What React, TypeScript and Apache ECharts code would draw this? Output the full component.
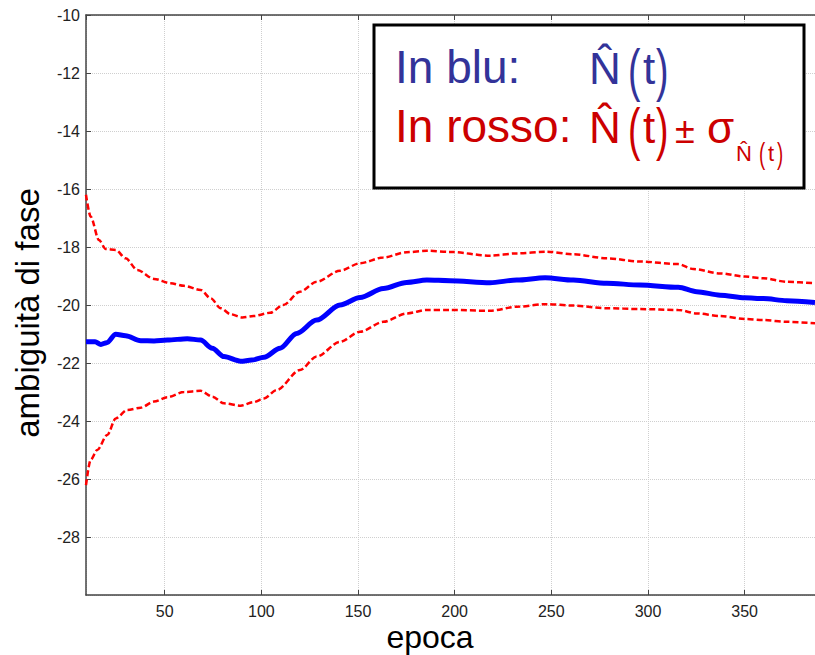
import React, { useEffect, useRef } from "react";
import * as echarts from "echarts";

// epoch (x) and ambiguity (y) values
const epocheBlu = [9.3, 14, 17, 20, 24.7, 29.8, 37.6, 44.5, 51.4, 61.7, 68.6, 74.6, 80.7, 89.3, 95, 101.4, 109.7, 118.3, 128.6, 140.7, 151.1, 163.1, 175.2, 185.6, 197.6, 218.3, 232.1, 246.8, 261.4, 278.7, 295.9, 315.7, 325.2, 337.3, 350.2, 359.7, 371.8, 386.4];
const valoriBlu = [-21.27, -21.27, -21.36, -21.3, -21.01, -21.06, -21.23, -21.24, -21.21, -21.16, -21.21, -21.49, -21.78, -21.94, -21.9, -21.8, -21.49, -20.98, -20.52, -20.0, -19.74, -19.43, -19.22, -19.14, -19.16, -19.23, -19.14, -19.06, -19.14, -19.25, -19.31, -19.39, -19.54, -19.66, -19.75, -19.78, -19.85, -19.91];

const epocheSup = [9.3, 11.7, 16, 19.5, 24.7, 29.8, 35.8, 44.5, 53.1, 60, 68.6, 73.8, 79, 84.2, 90.2, 96, 104.5, 111.4, 120, 128.6, 140.7, 151.1, 163.1, 175.2, 185.6, 197.6, 218.3, 232.1, 247.6, 261.4, 278.7, 295.9, 315.7, 323.5, 337.3, 350.2, 359.7, 371.8, 386.4];
const valoriSup = [-16.2, -16.95, -17.76, -18.07, -18.1, -18.39, -18.79, -19.1, -19.25, -19.34, -19.48, -19.77, -20.11, -20.32, -20.43, -20.38, -20.27, -20.0, -19.54, -19.2, -18.82, -18.56, -18.36, -18.18, -18.13, -18.17, -18.3, -18.22, -18.16, -18.25, -18.39, -18.5, -18.59, -18.76, -18.91, -19.02, -19.08, -19.2, -19.25];

const epocheInf = [9.3, 11.7, 15.1, 20.3, 24.7, 30.7, 37.6, 44.5, 51.4, 60, 68.6, 74.6, 80.7, 89.3, 96, 101.4, 108, 120, 128.6, 140.7, 151.1, 163.1, 175.2, 185.6, 197.6, 218.3, 232.1, 247.6, 261.4, 278.7, 295.9, 315.7, 325.2, 337.3, 350.2, 359.7, 371.8, 386.4];
const valoriInf = [-26.21, -25.34, -25.0, -24.48, -23.91, -23.62, -23.54, -23.33, -23.18, -23.0, -22.96, -23.16, -23.39, -23.47, -23.35, -23.22, -22.93, -22.24, -21.78, -21.27, -20.92, -20.58, -20.29, -20.17, -20.17, -20.2, -20.06, -19.97, -20.02, -20.11, -20.14, -20.17, -20.29, -20.38, -20.48, -20.52, -20.58, -20.63];

const xMin = 9.3;
const xMax = 386.4;
const yMin = -30;
const yMax = -10;

const FONT = "'Liberation Sans', Arial, sans-serif";
const BLUE_TXT = "#333399";
const RED_TXT = "#cc0000";

const pairs = (xs: number[], ys: number[]) => xs.map((x, i) => [x, ys[i]]);

function txt(text: string, x: number, y: number, size: number, fill: string, extra: any = {}) {
  return {
    type: "text",
    x,
    y,
    z: 100,
    ...extra,
    style: { text, fill, fontSize: size, fontFamily: FONT, align: "left", verticalAlign: "middle" },
  };
}

export default function App() {
  const ref = useRef<HTMLDivElement>(null);
  useEffect(() => {
    if (!ref.current) return;
    const chart = echarts.init(ref.current, undefined, { renderer: "svg" });
    const paren = { scaleX: 0.85, scaleY: 1.3 };
    chart.setOption({
      animation: false,
      backgroundColor: "#ffffff",
      grid: { left: 86, right: 0, top: 15, bottom: 60 },
      xAxis: [
        {
          type: "value",
          min: xMin,
          max: xMax,
          splitNumber: 8,
          minInterval: 50,
          maxInterval: 50,
          axisLine: { show: true, lineStyle: { color: "#444", width: 1.5 } },
          axisTick: { show: true, inside: true, length: 5, lineStyle: { color: "#444" } },
          axisLabel: { showMinLabel: false, showMaxLabel: false, margin: 8, color: "#222", fontSize: 16, fontFamily: FONT },
          splitLine: { show: true, lineStyle: { color: "#cfcfcf", type: "dotted", width: 1 } },
        },
        {
          type: "value",
          position: "top",
          min: xMin,
          max: xMax,
          splitNumber: 8,
          minInterval: 50,
          maxInterval: 50,
          axisLine: { show: true, lineStyle: { color: "#444", width: 1.5 } },
          axisTick: { show: true, inside: true, length: 5, lineStyle: { color: "#444" } },
          axisLabel: { show: false },
          splitLine: { show: false },
        },
      ],
      yAxis: {
        type: "value",
        min: yMin,
        max: yMax,
        interval: 2,
        axisLine: { show: true, lineStyle: { color: "#444", width: 1.5 } },
        axisTick: { show: true, inside: true, length: 5, lineStyle: { color: "#444" } },
        axisLabel: { showMinLabel: false, margin: 6, color: "#222", fontSize: 16, fontFamily: FONT },
        splitLine: { show: true, lineStyle: { color: "#cfcfcf", type: "dotted", width: 1 } },
      },
      series: [
        {
          type: "line",
          data: pairs(epocheSup, valoriSup),
          showSymbol: false,
          smooth: 0.3,
          smoothMonotone: "x",
          lineStyle: { color: "#ff0000", width: 2.5, type: [6, 3] },
        },
        {
          type: "line",
          data: pairs(epocheInf, valoriInf),
          showSymbol: false,
          smooth: 0.3,
          smoothMonotone: "x",
          lineStyle: { color: "#ff0000", width: 2.5, type: [6, 3] },
        },
        {
          type: "line",
          data: pairs(epocheBlu, valoriBlu),
          showSymbol: false,
          smooth: 0.3,
          smoothMonotone: "x",
          lineStyle: { color: "#0000ff", width: 5 },
        },
      ],
      graphic: [
        {
          type: "text",
          x: 430,
          y: 637,
          style: { text: "epoca", fill: "#000", fontSize: 32, fontFamily: FONT, align: "center", verticalAlign: "middle" },
        },
        {
          type: "text",
          x: 27,
          y: 313,
          rotation: Math.PI / 2,
          style: { text: "ambiguità di fase", fill: "#000", fontSize: 33, fontFamily: FONT, align: "center", verticalAlign: "middle" },
        },
        {
          type: "rect",
          z: 90,
          shape: { x: 374, y: 25, width: 430, height: 163 },
          style: { fill: "#ffffff", stroke: "#000000", lineWidth: 3 },
        },
        txt("In blu:", 395, 67, 46, BLUE_TXT),
        txt("N\u0302", 589, 68, 44, BLUE_TXT),
        txt("(", 628, 70, 44, BLUE_TXT, paren),
        txt("t", 643, 68, 44, BLUE_TXT),
        txt(")", 656, 70, 44, BLUE_TXT, paren),
        txt("In rosso:", 395, 126, 46, RED_TXT),
        txt("N\u0302", 589, 127, 44, RED_TXT),
        txt("(", 628, 129, 44, RED_TXT, paren),
        txt("t", 643, 127, 44, RED_TXT),
        txt(")", 656, 129, 44, RED_TXT, paren),
        txt("±", 675, 130, 36, RED_TXT),
        txt("σ", 707, 127, 44, RED_TXT),
        txt("N\u0302", 736, 153, 22, RED_TXT),
        txt("(", 759, 154, 22, RED_TXT, paren),
        txt("t", 768, 153, 22, RED_TXT),
        txt(")", 777, 154, 22, RED_TXT, paren),
      ],
    });
    return () => chart.dispose();
  }, []);
  return <div ref={ref} style={{ position: "absolute", left: 0, top: 0, width: 815, height: 655 }} />;
}
